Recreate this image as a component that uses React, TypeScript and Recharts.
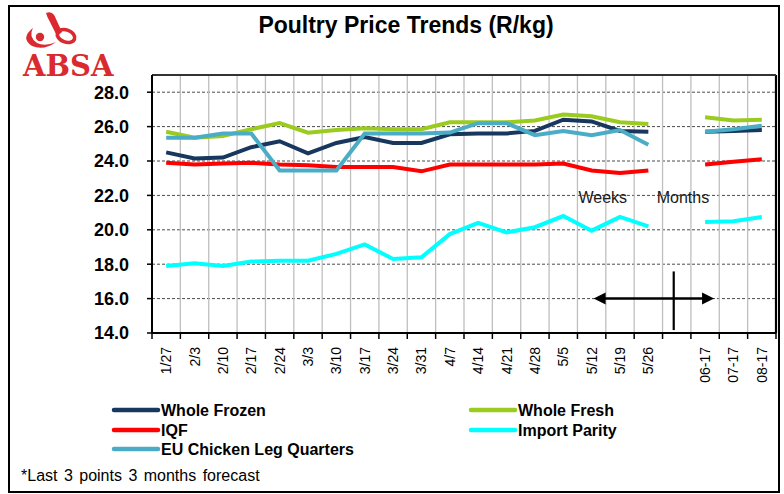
import React from 'react';
import { LineChart, Line, XAxis, YAxis, CartesianGrid, ReferenceLine } from 'recharts';

const categories = ['1/27','2/3','2/10','2/17','2/24','3/3','3/10','3/17','3/24','3/31','4/7','4/14','4/21','4/28','5/5','5/12','5/19','5/26',' ','06-17','07-17','08-17'];

const wholeFrozen = [24.5, 24.15, 24.2, 24.8, 25.15, 24.45, 25.05, 25.4, 25.05, 25.05, 25.55, 25.6, 25.6, 25.75, 26.4, 26.3, 25.75, 25.7, null, 25.7, 25.75, 25.8];
const wholeFresh = [25.7, 25.35, 25.45, 25.85, 26.2, 25.65, 25.8, 25.9, 25.85, 25.85, 26.25, 26.25, 26.25, 26.35, 26.7, 26.6, 26.25, 26.15, null, 26.55, 26.35, 26.4];
const iqf = [23.9, 23.8, 23.85, 23.9, 23.8, 23.75, 23.65, 23.65, 23.65, 23.4, 23.8, 23.8, 23.8, 23.8, 23.85, 23.45, 23.3, 23.45, null, 23.8, 23.95, 24.1];
const importParity = [17.9, 18.05, 17.9, 18.15, 18.2, 18.2, 18.6, 19.15, 18.3, 18.4, 19.75, 20.4, 19.85, 20.15, 20.8, 19.95, 20.75, 20.2, null, 20.45, 20.5, 20.75];
const euClq = [25.35, 25.35, 25.6, 25.6, 23.45, 23.45, 23.45, 25.6, 25.6, 25.6, 25.65, 26.2, 26.2, 25.5, 25.75, 25.5, 25.8, 24.95, null, 25.7, 25.85, 26.05];

const yTicks = [14, 16, 18, 20, 22, 24, 26, 28];

const series = [
  { key: 'wholeFrozen', name: 'Whole Frozen', color: '#17375E', values: wholeFrozen },
  { key: 'wholeFresh', name: 'Whole Fresh', color: '#9BCB1E', values: wholeFresh },
  { key: 'iqf', name: 'IQF', color: '#FF0000', values: iqf },
  { key: 'importParity', name: 'Import Parity', color: '#00FFFF', values: importParity },
  { key: 'euClq', name: 'EU Chicken Leg Quarters', color: '#4BACC6', values: euClq },
];

const data = categories.map((c, i) => {
  const row: any = { cat: c };
  series.forEach((s) => { row[s.key] = s.values[i]; });
  return row;
});

const FONT = '"Liberation Sans", Arial, Helvetica, sans-serif';

const XTick = (props: any) => {
  const { x, y, payload } = props;
  return (
    <text x={x} y={y} transform={`rotate(-90, ${x}, ${y})`} textAnchor="end" dominantBaseline="central"
      fontSize={14} fill="#000" fontFamily={FONT}>{payload.value}</text>
  );
};

const tickMark = (p: any) => {
  const bottom = Math.max(p.y1, p.y2);
  return <line x1={p.x1} x2={p.x1} y1={bottom} y2={bottom + 6} stroke="#000" strokeWidth={1.5} />;
};

const rightBorder = (p: any) => {
  const top = Math.min(p.y1, p.y2);
  const bottom = Math.max(p.y1, p.y2);
  return (
    <g>
      <line x1={p.x1} x2={p.x1} y1={top} y2={bottom} stroke="#000" strokeWidth={2.2} />
      <line x1={p.x1} x2={p.x1} y1={bottom} y2={bottom + 6} stroke="#000" strokeWidth={1.5} />
    </g>
  );
};

const arrowShape = (p: any) => {
  const y = p.y1;
  const xl = Math.min(p.x1, p.x2) + 2;
  const xr = Math.max(p.x1, p.x2) + 9;
  return (
    <g>
      <line x1={xl + 8} x2={xr - 8} y1={y} y2={y} stroke="#000" strokeWidth={2.5} />
      <polygon points={`${xl},${y} ${xl + 12},${y - 6} ${xl + 12},${y + 6}`} fill="#000" />
      <polygon points={`${xr},${y} ${xr - 12},${y - 6} ${xr - 12},${y + 6}`} fill="#000" />
    </g>
  );
};

const vLineShape = (p: any) => (
  <line x1={p.x1 - 3} x2={p.x2 - 3} y1={p.y1} y2={p.y2} stroke="#000" strokeWidth={2.2} />
);

const textShape = (label: string, dx: number) => (p: any) => (
  <text x={(p.x1 + p.x2) / 2 + dx} y={p.y1} textAnchor="middle" dominantBaseline="central"
    fontSize={16} fill="#1a1a1a" fontFamily={FONT}>{label}</text>
);

const Logo = () => (
  <g fill="#DA2A2F">
    <path d="M33 28 Q20 38 32 46 Q44 51 56 42 Q45 47 37 43 Q28 37 33 28 Z" />
    <circle cx={40} cy={37} r={4.2} />
    <path d="M46 13 Q53 10 56 19 L62 32 L57 36 L50 22 Q47 17 46 13 Z" />
    <ellipse cx={66} cy={36} rx={9} ry={6} fill="none" stroke="#DA2A2F" strokeWidth={3.6} transform="rotate(20 66 36)" />
    <text x={23} y={76} fontFamily='"DejaVu Serif", "Liberation Serif", serif' fontWeight={700} fontSize={29}>ABSA</text>
  </g>
);

export default function App() {
  const legendCols = [114, 471];
  const legendRows = [416, 436, 455];
  return (
    <div style={{ position: 'absolute', left: 0, top: 0, width: 784, height: 494, background: '#fff', fontFamily: FONT }}>
      <div style={{ position: 'absolute', left: 0, top: 0 }}>
        <LineChart width={784} height={494} data={data} margin={{ top: 75, right: 8, left: 92, bottom: 101 }}>
          <CartesianGrid horizontal={true} vertical={false} stroke="#4a4a4a" strokeDasharray="3 2" strokeWidth={1} />
          <CartesianGrid horizontal={false} vertical={true} stroke="#BFBFBF" strokeWidth={1.3}
            verticalCoordinatesGenerator={({ offset }: any) =>
              categories.slice(1).map((_, i) => offset.left + ((i + 1) * offset.width) / categories.length)} />
          <XAxis dataKey="cat" type="category" scale="band" interval={0} tickLine={false} tickSize={0} tickMargin={14}
            height={60} axisLine={{ stroke: '#000', strokeWidth: 2 }} tick={<XTick />} />
          <YAxis type="number" domain={[14, 29]} ticks={yTicks} interval={0} width={60} tickSize={5} tickMargin={18}
            axisLine={{ stroke: '#000', strokeWidth: 2 }} tickLine={{ stroke: '#000', strokeWidth: 1.5 }}
            tickFormatter={(v: number) => v.toFixed(1)}
            tick={{ fontSize: 18, fontWeight: 700, fill: '#000', fontFamily: FONT }} />
          {categories.map((c) => (
            <ReferenceLine key={'t' + c} x={c} position="start" shape={tickMark} />
          ))}
          <ReferenceLine x={categories[categories.length - 1]} position="end" shape={rightBorder} />
          <ReferenceLine y={29} stroke="#333" strokeWidth={2} />
          {series.map((s) => (
            <Line key={s.key} dataKey={s.key} name={s.name} stroke={s.color} strokeWidth={4} dot={false}
              activeDot={false} connectNulls={false} type="linear" isAnimationActive={false} />
          ))}
          <ReferenceLine segment={[{ x: '5/12', y: 16 }, { x: '06-17', y: 16 }]} shape={arrowShape} />
          <ReferenceLine segment={[{ x: ' ', y: 17.58 }, { x: ' ', y: 14.17 }]} shape={vLineShape} />
          <ReferenceLine segment={[{ x: '5/12', y: 21.85 }, { x: '5/19', y: 21.85 }]} shape={textShape('Weeks', -3)} />
          <ReferenceLine segment={[{ x: ' ', y: 21.85 }, { x: '06-17', y: 21.85 }]} shape={textShape('Months', -8)} />
        </LineChart>
      </div>
      <svg width={784} height={494} style={{ position: 'absolute', left: 0, top: 0, pointerEvents: 'none' }}>
        <rect x={9} y={6} width={770} height={486} fill="none" stroke="#000" strokeWidth={2} />
        <Logo />
        <text x={406} y={33} textAnchor="middle" fontFamily={FONT} fontWeight={700} fontSize={23} fill="#000">
          Poultry Price Trends (R/kg)
        </text>
        {series.map((s, i) => {
          const col = legendCols[i % 2];
          const row = legendRows[Math.floor(i / 2)];
          return (
            <g key={s.key}>
              <line x1={col} x2={col + 44} y1={row - 6} y2={row - 6} stroke={s.color} strokeWidth={4.5} strokeLinecap="round" />
              <text x={col + 47} y={row} fontFamily={FONT} fontWeight={700} fontSize={16} fill="#000">{s.name}</text>
            </g>
          );
        })}
        <text x={21} y={481} fontFamily={FONT} fontSize={16} fill="#000" style={{ wordSpacing: 2 }}>*Last 3 points 3 months  forecast</text>
      </svg>
    </div>
  );
}
